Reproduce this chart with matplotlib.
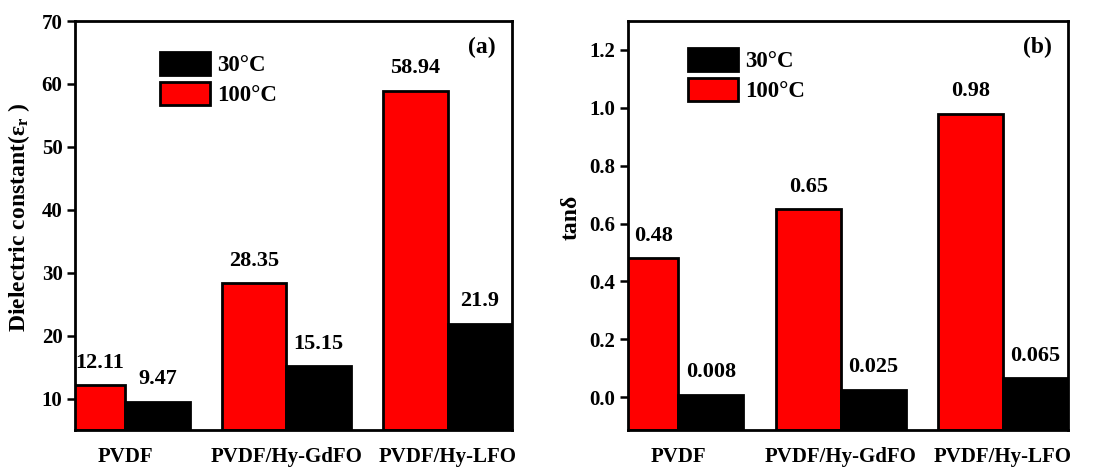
import numpy as np
import matplotlib.pyplot as plt
from matplotlib.patches import Patch

plt.rcParams['font.family'] = ['Liberation Serif', 'DejaVu Serif']
plt.rcParams['font.weight'] = 'bold'
plt.rcParams['mathtext.fontset'] = 'custom'
plt.rcParams['mathtext.rm'] = 'Liberation Serif:bold'
plt.rcParams['mathtext.bf'] = 'Liberation Serif:bold'
plt.rcParams['mathtext.it'] = 'Liberation Serif:bold'

samples = ['PVDF', 'PVDF/Hy-GdFO', 'PVDF/Hy-LFO']

# dielectric constant
eps_100 = [12.11, 28.35, 58.94]
eps_30 = [9.47, 15.15, 21.9]
eps_100_txt = ['12.11', '28.35', '58.94']
eps_30_txt = ['9.47', '15.15', '21.9']

# loss tangent
tan_100 = [0.48, 0.65, 0.98]
tan_30 = [0.008, 0.025, 0.065]
tan_100_txt = ['0.48', '0.65', '0.98']
tan_30_txt = ['0.008', '0.025', '0.065']

x = np.arange(len(samples))
w = 0.4
x_lo, x_hi = -0.31, 2.4

fig = plt.figure(figsize=(11.1, 4.68), dpi=100)
ax1 = fig.add_axes([0.0676, 0.0812, 0.3937, 0.8738])
ax2 = fig.add_axes([0.5658, 0.0812, 0.3964, 0.8738])


def draw(ax, hot, cold, hot_txt, cold_txt, ylim, yticks, ylabel, tag, leg_xy, lab_x):
    y0 = ylim[0]
    # bars grow from the bottom of the frame
    ax.bar(x - w / 2, np.array(hot) - y0, w, bottom=y0, color='#ff0000',
           edgecolor='black', linewidth=2, zorder=2)
    ax.bar(x + w / 2, np.array(cold) - y0, w, bottom=y0, color='black',
           edgecolor='black', linewidth=2, zorder=2)
    ax.set_xlim(x_lo, x_hi)
    ax.set_ylim(*ylim)
    ax.set_yticks(yticks)
    ax.set_xticks(x)
    ax.set_xticklabels(samples, fontsize=15, fontweight='bold')
    ax.tick_params(axis='x', length=0, pad=12)
    ax.tick_params(axis='y', direction='out', length=6, width=1.8, labelsize=15, pad=3)
    for s in ax.spines.values():
        s.set_linewidth(2)
        s.set_zorder(3)
    ax.set_ylabel(ylabel, fontsize=17, fontweight='bold')
    ax.yaxis.set_label_coords(lab_x, 0.52)

    # value labels above bars (first red bar is cut by the frame, so centre on the visible part)
    for xi, v, t in zip(x, hot, hot_txt):
        xc = (x_lo + xi) / 2 if xi - w < x_lo else xi - w / 2
        ax.annotate(t, (xc, v), xytext=(0, 9), textcoords='offset points',
                    ha='center', va='bottom', fontsize=16, fontweight='bold')
    for xi, v, t in zip(x, cold, cold_txt):
        ax.annotate(t, (xi + w / 2, v), xytext=(0, 9), textcoords='offset points',
                    ha='center', va='bottom', fontsize=16, fontweight='bold')

    ax.text(0.93, 0.935, tag, transform=ax.transAxes, ha='center', va='center',
            fontsize=17, fontweight='bold')

    handles = [Patch(facecolor='black', edgecolor='black', linewidth=2),
               Patch(facecolor='#ff0000', edgecolor='black', linewidth=2)]
    ax.legend(handles, ['30°C', '100°C'], loc='upper left', bbox_to_anchor=leg_xy,
              frameon=False, fontsize=16.5, handlelength=2.18, handleheight=1.18,
              handletextpad=0.3, labelspacing=0.25, borderpad=0, borderaxespad=0)


draw(ax1, eps_100, eps_30, eps_100_txt, eps_30_txt, (5, 70),
     np.arange(10, 71, 10), 'Dielectric constant(ε$_\\mathrm{r}$ )', '(a)',
     (0.195, 0.925), -0.098)
draw(ax2, tan_100, tan_30, tan_100_txt, tan_30_txt, (-0.114, 1.3),
     np.round(np.arange(0, 1.21, 0.2), 1), 'tanδ', '(b)',
     (0.136, 0.935), -0.105)
ax2.yaxis.set_major_formatter(plt.FormatStrFormatter('%.1f'))

fig.savefig('out.png', dpi=100)
